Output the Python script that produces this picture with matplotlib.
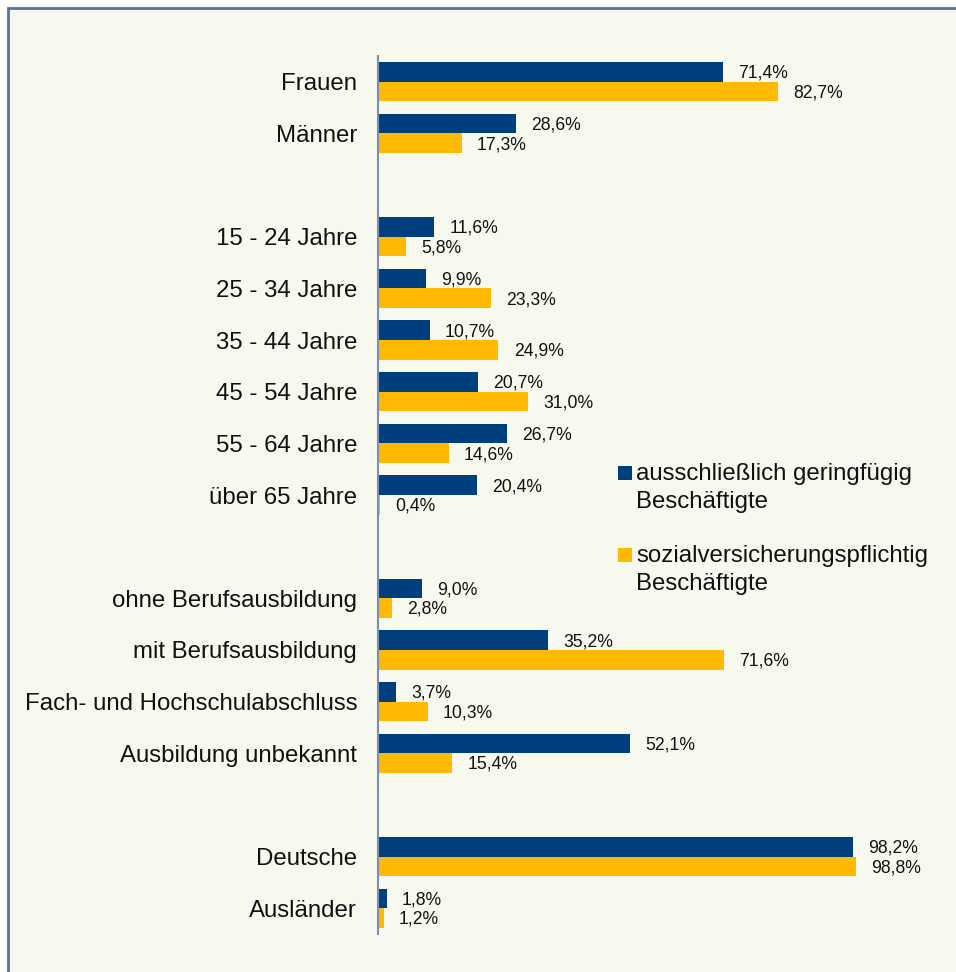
import numpy as np
import matplotlib
matplotlib.use("Agg")
import matplotlib.pyplot as plt
from matplotlib.patches import Rectangle

plt.rcParams['font.family'] = ['Liberation Sans', 'DejaVu Sans']

# categories, "" = empty gap slot
categories = ["Frauen", "Männer", "",
              "15 - 24 Jahre", "25 - 34 Jahre", "35 - 44 Jahre",
              "45 - 54 Jahre", "55 - 64 Jahre", "über 65 Jahre", "",
              "ohne Berufsausbildung", "mit Berufsausbildung",
              "Fach- und Hochschulabschluss", "Ausbildung unbekannt", "",
              "Deutsche", "Ausländer"]
geringfuegig = [71.4, 28.6, None, 11.6, 9.9, 10.7, 20.7, 26.7, 20.4, None,
                9.0, 35.2, 3.7, 52.1, None, 98.2, 1.8]
sozial = [82.7, 17.3, None, 5.8, 23.3, 24.9, 31.0, 14.6, 0.4, None,
          2.8, 71.6, 10.3, 15.4, None, 98.8, 1.2]
series_labels = ["ausschließlich geringfügig\nBeschäftigte",
                 "sozialversicherungspflichtig\nBeschäftigte"]

NAVY = "#003F7D"
GOLD = "#FFB900"
BG = "#F8F9EE"

W, H = 956, 972
fig = plt.figure(figsize=(W / 100, H / 100), dpi=100, facecolor="white")

# outer frame
fig.patches.append(Rectangle((8 / W, -0.05), 1.1, 1.05 - 8 / H,
                             transform=fig.transFigure, facecolor=BG,
                             edgecolor="#5670A8", linewidth=2, zorder=-10))

ax = fig.add_axes([378 / W, 38 / H, (W - 378) / W, (934 - 56) / H], zorder=5)
ax.set_facecolor("none")

y = np.arange(len(categories))
h = 0.38
for vals, col, off in [(geringfuegig, NAVY, -h / 2), (sozial, GOLD, h / 2)]:
    idx = [i for i, v in enumerate(vals) if v is not None]
    v = [vals[i] for i in idx]
    bars = ax.barh(y[idx] + off, v, height=h, color=col, zorder=2)
    for b, val in zip(bars, v):
        ax.annotate(f"{val:.1f}%".replace(".", ","),
                    (b.get_width(), b.get_y() + b.get_height() / 2),
                    xytext=(11, -1), textcoords="offset points",
                    ha="left", va="center", fontsize=12.7, color="#111111")

ax.set_xlim(0, (W - 378) / 4.835)
ax.set_ylim(len(categories) - 0.5, -0.5)
ax.set_yticks(y)
ax.set_yticklabels(categories, fontsize=17.3, color="#111111")
ax.tick_params(axis="y", length=0, pad=15)
ax.set_xticks([])
for s in ["top", "right", "bottom"]:
    ax.spines[s].set_visible(False)
ax.spines["left"].set_color("#7A8FB8")
ax.spines["left"].set_linewidth(1.5)

# legend
for k, (lab, col) in enumerate(zip(series_labels, [NAVY, GOLD])):
    base = 480 + k * 82
    fig.patches.append(Rectangle((618 / W, 1 - base / H), 14 / W, 14 / H,
                                 transform=fig.transFigure, facecolor=col,
                                 edgecolor="none", zorder=6))
    for j, line in enumerate(lab.split("\n")):
        fig.text(636 / W, 1 - (base + j * 28) / H, line, fontsize=17.3,
                 va="baseline", ha="left", color="#111111", zorder=6)

fig.savefig("out.png", dpi=100, facecolor="white")
